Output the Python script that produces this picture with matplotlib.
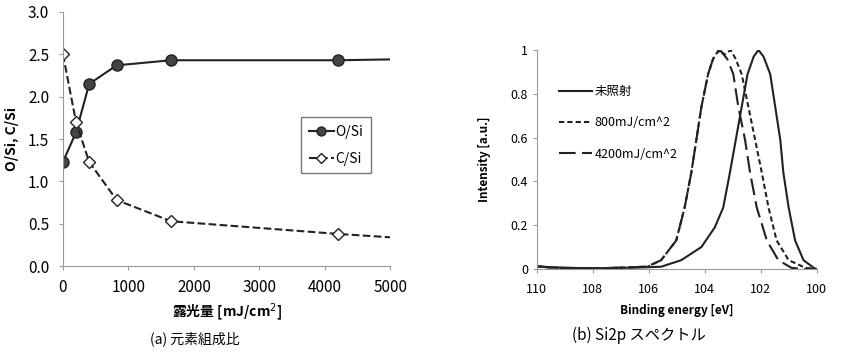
import numpy as np
import matplotlib
matplotlib.use('Agg')
import matplotlib.pyplot as plt

plt.rcParams['font.family'] = ['Noto Sans CJK JP', 'DejaVu Sans']

# (a) composition ratio vs exposure dose
dose = [0, 200, 400, 820, 1650, 4200, 5000]
o_si = [1.23, 1.58, 2.15, 2.37, 2.43, 2.43, 2.44]
c_si = [2.50, 1.70, 1.23, 0.78, 0.53, 0.38, 0.34]

# (b) Si2p spectra
e_raw = [110, 109.5, 109, 108.5, 108, 107.5, 107, 106.5, 106, 105.56, 104.84, 104.12,
         103.64, 103.34, 103.1, 102.89, 102.68, 102.47, 102.25, 102.08, 101.9,
         101.66, 101.48, 101.3, 101.19, 101.0, 100.77, 100.47, 100.05]
i_raw = [0.012, 0.008, 0.006, 0.004, 0.003, 0.004, 0.005, 0.006, 0.008, 0.01, 0.04, 0.10,
         0.19, 0.28, 0.44, 0.59, 0.74, 0.89, 0.97, 1.0, 0.97,
         0.89, 0.74, 0.59, 0.44, 0.28, 0.13, 0.04, 0.0]

e_800 = [110, 109.5, 109, 108.5, 108, 107.5, 107, 106.5, 106.04, 105.56, 105.02, 104.72,
         104.48, 104.3, 104.12, 103.88, 103.7, 103.5, 103.28, 103.07, 102.9,
         102.68, 102.44, 102.2, 101.96, 101.72, 101.43, 101.0, 100.4, 100.0]
i_800 = [0.012, 0.006, 0.003, 0.004, 0.003, 0.004, 0.006, 0.008, 0.01, 0.04, 0.13, 0.28,
         0.44, 0.59, 0.74, 0.89, 0.96, 1.0, 0.98, 1.0, 0.96,
         0.89, 0.74, 0.59, 0.44, 0.28, 0.13, 0.04, 0.005, 0.0]

e_4200 = [110, 109.5, 109, 108.5, 108, 107.5, 107, 106.5, 106.04, 105.56, 105.02, 104.72,
          104.48, 104.3, 104.12, 103.88, 103.7, 103.46, 103.2, 102.98, 102.8,
          102.56, 102.38, 102.14, 101.78, 101.37, 100.9, 100.5, 100.0]
i_4200 = [0.012, 0.006, 0.003, 0.004, 0.003, 0.004, 0.006, 0.008, 0.012, 0.04, 0.13, 0.28,
          0.44, 0.59, 0.74, 0.89, 0.96, 1.0, 0.96, 0.89, 0.74,
          0.59, 0.44, 0.28, 0.13, 0.04, 0.005, 0.0, 0.0]


def main():
    fig = plt.figure(figsize=(8.66, 3.52), dpi=100)
    fig.patch.set_facecolor('white')

    # left chart: O/Si and C/Si
    ax1 = fig.add_axes([0.0727, 0.244, 0.378, 0.722])
    marks = list(range(len(dose) - 1))
    ax1.plot(dose, o_si, '-', color='#222222', lw=1.5, marker='o', ms=8,
             mfc='#444444', mec='#222222', markevery=marks, label='O/Si')
    ax1.plot(dose, c_si, '--', color='#222222', lw=1.5, marker='D', ms=6,
             mfc='white', mec='#222222', markevery=marks, label='C/Si')
    ax1.set_xlim(0, 5000)
    ax1.set_ylim(0, 3.0)
    ax1.set_xticks([0, 1000, 2000, 3000, 4000, 5000])
    yt = np.arange(0, 3.01, 0.5)
    ax1.set_yticks(yt)
    ax1.set_yticklabels(['%.1f' % v for v in yt])
    for s in ['top', 'right']:
        ax1.spines[s].set_visible(False)
    for s in ['left', 'bottom']:
        ax1.spines[s].set_color('#999999')
    ax1.tick_params(labelsize=11, length=3, color='#999999')
    ax1.tick_params(axis='y', pad=7)
    ax1.tick_params(axis='x', pad=6)
    ax1.set_ylabel('O/Si, C/Si', fontsize=10, fontweight='bold', labelpad=6)
    ax1.set_xlabel('露光量 [mJ/cm$^2$]', fontsize=10, fontweight='bold', labelpad=4)
    leg = ax1.legend(loc='upper left', bbox_to_anchor=(0.728, 0.585), fontsize=10,
                     frameon=True, fancybox=False, edgecolor='#555555', borderaxespad=0,
                     handlelength=1.8, handletextpad=0.1, labelspacing=0.9,
                     markerscale=0.8, borderpad=0.55)
    leg.get_frame().set_linewidth(1.0)
    fig.text(0.225, 0.025, '(a) 元素組成比', fontsize=10, ha='center')

    # right chart: Si2p spectra
    ax2 = fig.add_axes([0.620, 0.236, 0.323, 0.622])
    ax2.plot(e_raw, i_raw, '-', color='#222222', lw=1.5, label='未照射')
    ax2.plot(e_800, i_800, '--', color='#222222', lw=1.5, dashes=(2.5, 1.5), label='800mJ/cm^2')
    ax2.plot(e_4200, i_4200, '--', color='#222222', lw=1.5, dashes=(8, 3), label='4200mJ/cm^2')
    ax2.set_xlim(110, 100)
    ax2.set_ylim(0, 1)
    ax2.set_xticks([110, 108, 106, 104, 102, 100])
    ax2.set_yticks([0, 0.2, 0.4, 0.6, 0.8, 1])
    ax2.set_yticklabels(['0', '0.2', '0.4', '0.6', '0.8', '1'])
    for s in ['top', 'right']:
        ax2.spines[s].set_visible(False)
    for s in ['left', 'bottom']:
        ax2.spines[s].set_color('#999999')
    ax2.tick_params(labelsize=9, length=3, color='#999999')
    ax2.tick_params(axis='x', pad=7)
    ax2.set_ylabel('Intensity [a.u.]', fontsize=8.5, fontweight='bold', labelpad=14)
    ax2.set_xlabel('Binding energy [eV]', fontsize=8.5, fontweight='bold', labelpad=6)
    ax2.legend(loc='upper left', bbox_to_anchor=(0.04, 0.89), fontsize=9, frameon=False,
               handlelength=2.6, handletextpad=0.2, labelspacing=1.45)
    fig.text(0.738, 0.035, '(b) Si2p スペクトル', fontsize=11, ha='center')

    plt.savefig('out.png', dpi=100)
    plt.close()


if __name__ == '__main__':
    main()
